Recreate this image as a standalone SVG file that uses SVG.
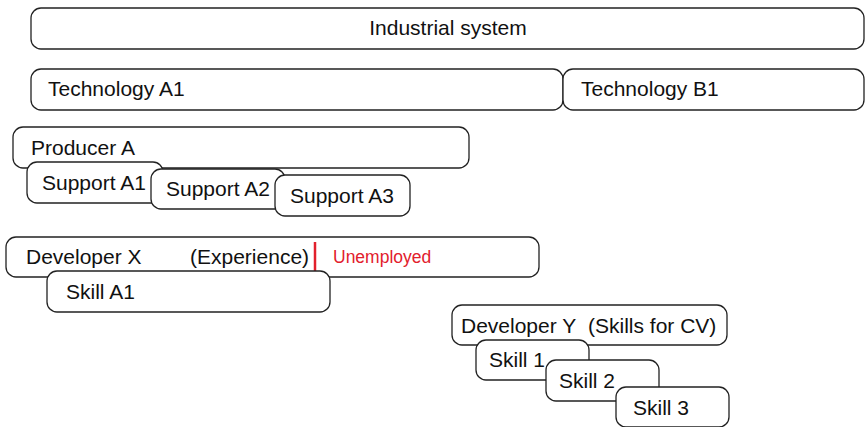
<svg xmlns="http://www.w3.org/2000/svg" width="865" height="427" viewBox="0 0 865 427">
  <style>
    .box { fill: #ffffff; stroke: #222222; stroke-width: 1.3; }
    .lbl { font-family: "Liberation Sans", Arial, Helvetica, sans-serif; font-size: 21px; fill: #111111; }
    .note { font-family: "Liberation Sans", Arial, Helvetica, sans-serif; font-size: 17.5px; fill: #e2202c; }
  </style>
  <rect width="865" height="427" fill="#ffffff"/>

  <g id="industrial-system">
    <rect class="box" x="31" y="8" width="833" height="41" rx="10"/>
    <text class="lbl" x="448" y="35" text-anchor="middle">Industrial system</text>
  </g>

  <g id="technology-a1">
    <rect class="box" x="31" y="69" width="532" height="41" rx="10"/>
    <text class="lbl" x="48" y="96">Technology A1</text>
  </g>

  <g id="technology-b1">
    <rect class="box" x="563" y="69" width="301" height="41" rx="10"/>
    <text class="lbl" x="581" y="96">Technology B1</text>
  </g>

  <g id="producer-a">
    <rect class="box" x="13" y="127" width="456" height="41" rx="10"/>
    <text class="lbl" x="31" y="155">Producer A</text>
  </g>

  <g id="support-a1">
    <rect class="box" x="27" y="162" width="136" height="41" rx="10"/>
    <text class="lbl" x="42" y="190">Support A1</text>
  </g>

  <g id="support-a2">
    <rect class="box" x="151" y="169" width="134" height="40" rx="10"/>
    <text class="lbl" x="166" y="196">Support A2</text>
  </g>

  <g id="support-a3">
    <rect class="box" x="275" y="175" width="135" height="41" rx="10"/>
    <text class="lbl" x="290" y="203">Support A3</text>
  </g>

  <g id="developer-x">
    <rect class="box" x="6" y="237" width="533" height="40" rx="10"/>
    <text class="lbl" x="26" y="264">Developer X</text>
    <text class="lbl" x="190" y="264">(Experience)</text>
    <line x1="315" y1="242" x2="315" y2="271" stroke="#e2202c" stroke-width="2.5"/>
    <text class="note" x="333" y="263">Unemployed</text>
  </g>

  <g id="skill-a1">
    <rect class="box" x="47" y="271" width="283" height="41" rx="10"/>
    <text class="lbl" x="66" y="299">Skill A1</text>
  </g>

  <g id="developer-y">
    <rect class="box" x="452" y="305" width="275" height="40" rx="10"/>
    <text class="lbl" x="461" y="333">Developer Y</text>
    <text class="lbl" x="588" y="333">(Skills for CV)</text>
  </g>

  <g id="skill-1">
    <rect class="box" x="476" y="340" width="113" height="40" rx="10"/>
    <text class="lbl" x="489" y="367">Skill 1</text>
  </g>

  <g id="skill-2">
    <rect class="box" x="546" y="360" width="113" height="41" rx="10"/>
    <text class="lbl" x="559" y="388">Skill 2</text>
  </g>

  <g id="skill-3">
    <rect class="box" x="616" y="387" width="113" height="40" rx="10"/>
    <text class="lbl" x="633" y="415">Skill 3</text>
  </g>

  <g id="connectors"></g>
</svg>
